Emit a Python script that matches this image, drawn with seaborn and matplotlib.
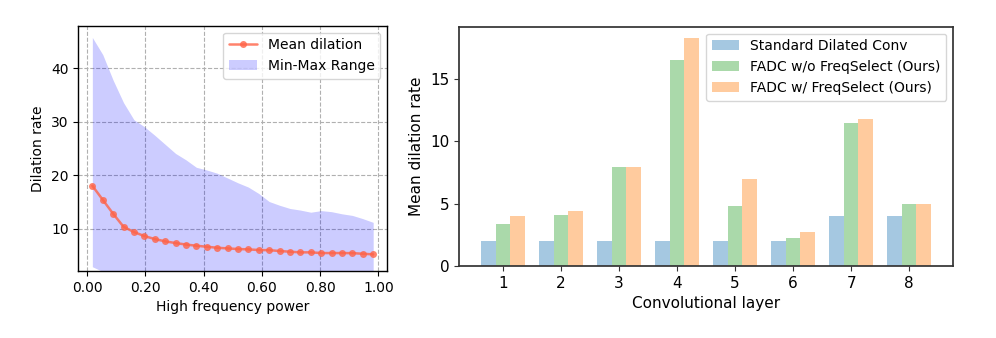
import numpy as np
import pandas as pd
import matplotlib
matplotlib.use("Agg")
import matplotlib.pyplot as plt
import seaborn as sns

# ---- left panel: dilation vs. high-frequency power (28 bins) ----
hf_power = [(i + 0.5) / 28 for i in range(28)]
mean_dilation = [18.05, 15.43, 12.81, 10.38, 9.39, 8.64, 8.08, 7.65, 7.33,
                 7.05, 6.83, 6.64, 6.45, 6.33, 6.21, 6.15, 6.02, 6.00,
                 5.84, 5.71, 5.59, 5.59, 5.46, 5.46, 5.46, 5.44, 5.33, 5.21]
max_dilation = [45.8, 42.6, 37.8, 33.6, 30.4, 29.1, 27.5, 25.8, 24.1,
                22.9, 21.5, 21.0, 20.4, 19.5, 18.6, 17.8, 16.6, 15.1,
                14.4, 13.8, 13.5, 13.1, 13.4, 13.2, 12.8, 12.5, 11.9, 11.2]
min_dilation = [2.9, 2.0] + [1.0] * 26

# ---- right panel: mean dilation per convolutional layer ----
layers = ["1", "2", "3", "4", "5", "6", "7", "8"]
standard_dilated = [2, 2, 2, 2, 2, 2, 4, 4]
fadc_wo_freqselect = [3.36, 4.08, 7.95, 16.5, 4.8, 2.24, 11.45, 4.97]
fadc_w_freqselect = [4.0, 4.4, 7.95, 18.28, 6.97, 2.72, 11.78, 4.97]
method_names = ["Standard Dilated Conv", "FADC w/o FreqSelect (Ours)",
                "FADC w/ FreqSelect (Ours)"]

sns.set_theme(style="white")
plt.rcParams["font.family"] = ["DejaVu Sans"]
plt.rcParams.update({
    "font.size": 10, "axes.labelsize": 10, "xtick.labelsize": 10,
    "ytick.labelsize": 10, "legend.fontsize": 10,
    "axes.edgecolor": "black", "xtick.color": "black", "ytick.color": "black",
    "axes.labelcolor": "black", "text.color": "black",
})

fig = plt.figure(figsize=(9.96, 3.38), dpi=100)
ax1 = fig.add_axes([0.0786, 0.1982, 0.3102, 0.7258])
ax2 = fig.add_axes([0.4608, 0.2130, 0.4964, 0.7080])

# left: min-max band + mean curve
curve = pd.DataFrame({"x": hf_power, "mean": mean_dilation,
                      "lo": min_dilation, "hi": max_dilation})
ax1.fill_between(curve["x"], curve["lo"], curve["hi"], color="blue",
                 alpha=0.2, linewidth=0, label="Min-Max Range")
sns.lineplot(data=curve, x="x", y="mean", ax=ax1, color="tomato", alpha=0.8,
             marker="o", markersize=5, markeredgewidth=0, linewidth=1.8,
             label="Mean dilation")
ax1.set_xlim(-0.0304, 1.0304)
ax1.set_ylim(2.1, 48.0)
ax1.set_xticks([0, 0.2, 0.4, 0.6, 0.8, 1.0])
ax1.set_xticklabels([f"{v:.2f}" for v in [0, 0.2, 0.4, 0.6, 0.8, 1.0]])
ax1.set_yticks([10, 20, 30, 40])
ax1.set_xlabel("High frequency power")
ax1.set_ylabel("Dilation rate")
ax1.grid(True, linestyle="--", color="#b0b0b0", linewidth=0.8)
ax1.tick_params(axis="both", which="major", length=3.5, width=0.8,
                direction="out", bottom=True, left=True)
for s in ax1.spines.values():
    s.set_color("black")
    s.set_linewidth(1.0)
h, l = ax1.get_legend_handles_labels()
order = [l.index("Mean dilation"), l.index("Min-Max Range")]
ax1.legend([h[i] for i in order], [l[i] for i in order], loc="upper right",
           frameon=True, framealpha=0.8, edgecolor="#cccccc", fancybox=True)

# right: grouped bars
bars = pd.DataFrame({
    "layer": layers * 3,
    "value": standard_dilated + fadc_wo_freqselect + fadc_w_freqselect,
    "method": np.repeat(method_names, len(layers)),
})
palette = {method_names[0]: "#1f77b4", method_names[1]: "#2ca02c",
           method_names[2]: "#ff7f0e"}
sns.barplot(data=bars, x="layer", y="value", hue="method", ax=ax2,
            palette=palette, saturation=1, width=0.75, alpha=0.4,
            errorbar=None, linewidth=0)
ax2.set_xlim(-0.7625, 7.7625)
ax2.set_ylim(0, 19.2)
ax2.set_yticks([0, 5, 10, 15])
ax2.set_xlabel("Convolutional layer", fontsize=11)
ax2.set_ylabel("Mean dilation rate", fontsize=11)
ax2.tick_params(axis="both", which="major", length=3.5, width=0.8,
                direction="out", bottom=True, left=True, color="#333333",
                labelsize=11)
for s in ax2.spines.values():
    s.set_color("#333333")
    s.set_linewidth(1.25)
ax2.legend(title=None, loc="upper right", frameon=True,
           framealpha=0.8, edgecolor="#cccccc", fancybox=True)

fig.savefig("out.png", dpi=100)
